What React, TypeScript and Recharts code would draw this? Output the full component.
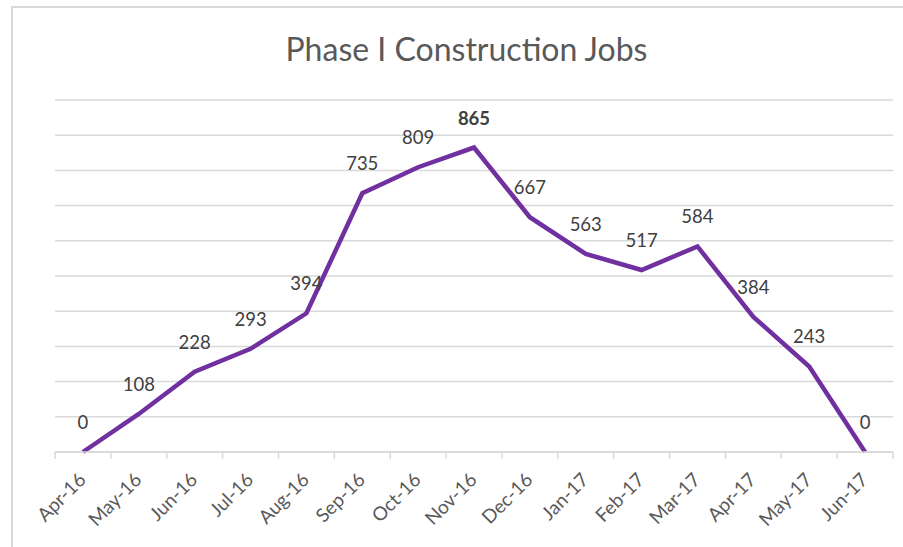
import React from 'react';
import { LineChart, Line, XAxis, YAxis, CartesianGrid, LabelList } from 'recharts';

const months = [
  'Apr-16', 'May-16', 'Jun-16', 'Jul-16', 'Aug-16', 'Sep-16', 'Oct-16', 'Nov-16',
  'Dec-16', 'Jan-17', 'Feb-17', 'Mar-17', 'Apr-17', 'May-17', 'Jun-17',
];
const jobs = [0, 108, 228, 293, 394, 735, 809, 865, 667, 563, 517, 584, 384, 243, 0];
const yTicks = [0, 100, 200, 300, 400, 500, 600, 700, 800, 900, 1000];

const data = months.map((month, i) => ({ idx: i, month, jobs: jobs[i] }));
// tick marks sit between the months, like Excel; labels are drawn half a band to the right
const boundaryTicks = [...months.map((_, i) => i - 0.5), months.length - 0.5];
const peak = Math.max(...jobs);

const W = 903;
const H = 547;
const MARGIN = { top: 100, right: 10, left: 55, bottom: 0 };
const HALF_BAND = (W - MARGIN.left - MARGIN.right) / months.length / 2;

const FONT = 'Lato, "Open Sans", sans-serif';

function MonthTick(props: any) {
  const { x, y, payload } = props;
  const label = months[payload.value + 0.5];
  if (!label) return null;
  const ax = x + HALF_BAND + 4;
  const ay = y + 22;
  return (
    <text
      x={ax}
      y={ay}
      textAnchor="end"
      fill="#595959"
      fontSize={19}
      fontFamily={FONT}
      transform={`rotate(-45, ${ax}, ${ay})`}
    >
      {label}
    </text>
  );
}

function ValueLabel(props: any) {
  const { x, y, value } = props;
  return (
    <text
      x={x}
      y={y - 23}
      textAnchor="middle"
      fill="#404040"
      fontSize={18.5}
      fontFamily={FONT}
      fontWeight={value === peak ? 700 : 400}
    >
      {value}
    </text>
  );
}

export default function App() {
  return (
    <div style={{ position: 'absolute', left: 0, top: 0, width: W, height: H, overflow: 'hidden', background: '#fff' }}>
      <div
        style={{
          position: 'absolute',
          left: 11,
          top: 6,
          width: 1200,
          height: 1200,
          border: '2px solid #d9d9d9',
          boxSizing: 'border-box',
        }}
      />
      <svg width={W} height={80} style={{ position: 'absolute', left: 0, top: 0 }}>
        <text x={466.5} y={60.7} textAnchor="middle" fill="#595959" fontSize={32} fontFamily={FONT}>
          Phase I Construction Jobs
        </text>
      </svg>
      <div style={{ position: 'absolute', left: 0, top: 0 }}>
        <LineChart width={W} height={H} data={data} margin={MARGIN}>
          <CartesianGrid vertical={false} stroke="#d9d9d9" strokeWidth={1.5} />
          <XAxis
            dataKey="idx"
            type="number"
            domain={[-0.5, months.length - 0.5]}
            allowDataOverflow
            ticks={boundaryTicks}
            tick={<MonthTick />}
            tickSize={7}
            tickMargin={0}
            height={95}
            axisLine={{ stroke: '#d9d9d9', strokeWidth: 1.5 }}
            tickLine={{ stroke: '#d9d9d9', strokeWidth: 1.5 }}
            interval={0}
          />
          <YAxis hide domain={[0, 1000]} ticks={yTicks} width={0} />
          <Line
            type="linear"
            dataKey="jobs"
            stroke="#7030a0"
            strokeWidth={4.5}
            dot={false}
            isAnimationActive={false}
          >
            <LabelList dataKey="jobs" content={<ValueLabel />} />
          </Line>
        </LineChart>
      </div>
    </div>
  );
}
